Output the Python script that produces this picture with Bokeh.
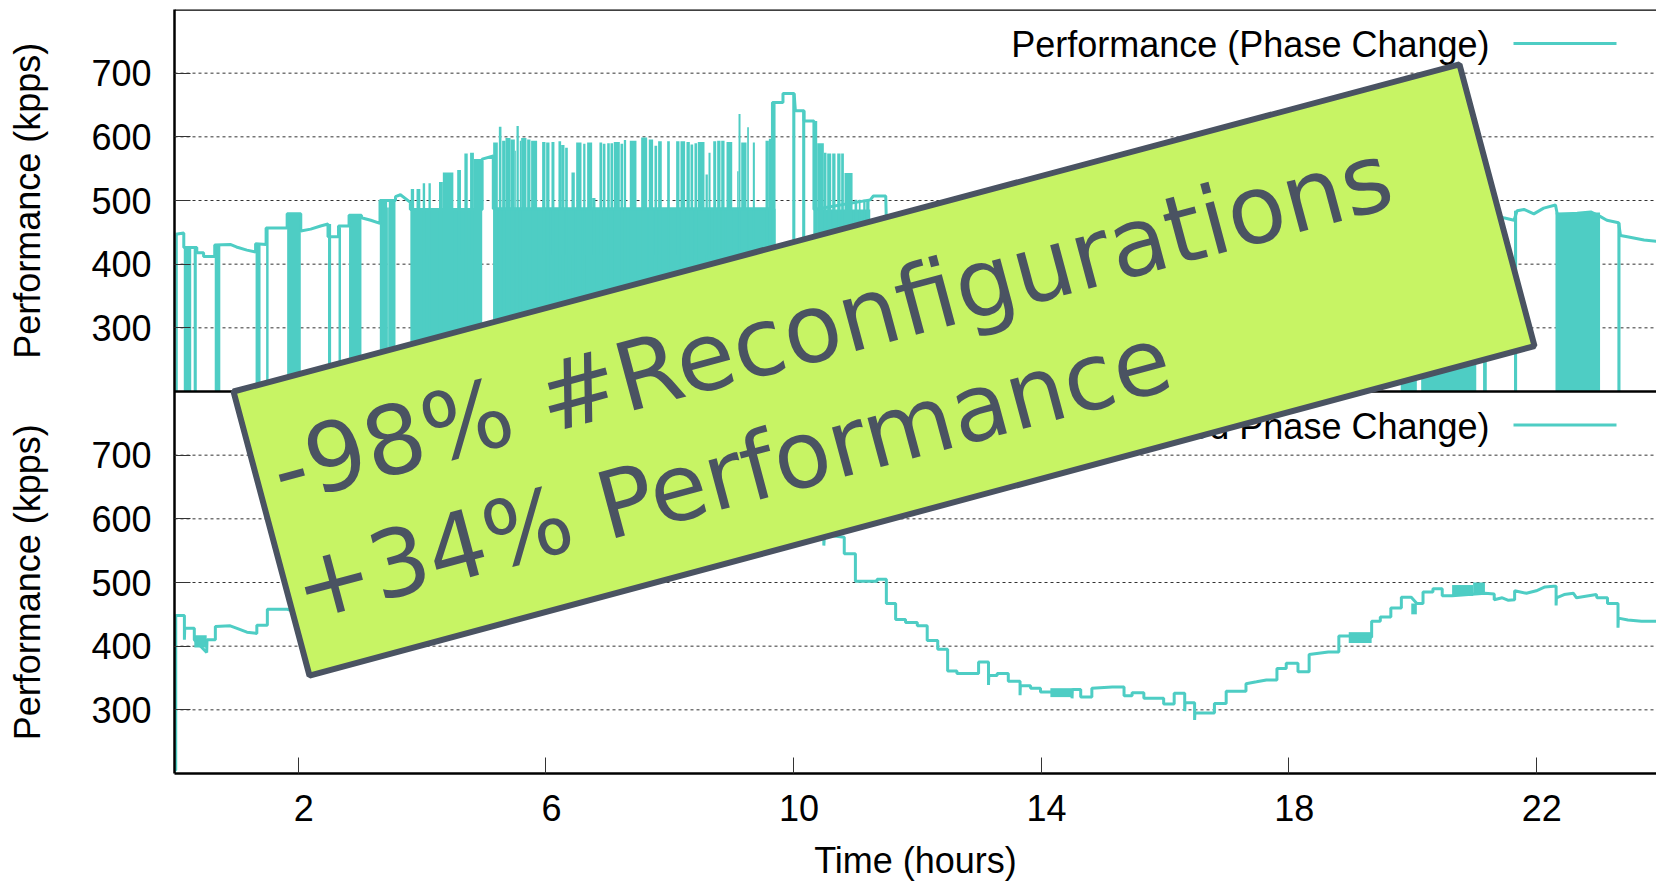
from bokeh.core.properties import value
from bokeh.embed import file_html
from bokeh.layouts import row
from bokeh.models import FixedTicker, Label, LinearAxis, PolyAnnotation, Range1d, Span
from bokeh.plotting import figure
from bokeh.resources import INLINE

# ---- tick labels / texts
x_ticks = [2, 6, 10, 14, 18, 22]
y_ticks = [300, 400, 500, 600, 700]
legend_upper = "Performance (Phase Change)"
legend_lower = "Performance (Filtered Phase Change)"
y_title = "Performance (kpps)"
x_title = "Time (hours)"
callout_1 = "-98% #Reconfigurations"
callout_2 = "+34% Performance"

# ---- upper panel: envelope of the performance trace, (hour, kpps)
upper_trace = [
    (0.02,447),(0.15,449),(0.15,426),(0.36,426),(0.36,418),(0.47,418),(0.47,412),(0.65,412),
    (0.65,430),(0.90,431),(1.00,427),(1.17,422),(1.31,419),(1.31,432),(1.48,431),(1.48,457),
    (1.82,457),(1.82,479),(2.04,479),(2.04,452),(2.20,455),(2.36,460),(2.48,463),(2.48,443),
    (2.65,443),(2.65,460),(2.82,460),(2.82,477),(3.02,477),(3.02,473),(3.17,469),(3.32,464),
    (3.32,500),(3.57,500),(3.57,506),(3.65,509),(3.81,497),(3.81,486),(4.97,486),(4.97,565),
    (5.15,570),(5.15,487),(9.66,487),(9.66,654),(9.83,654),(9.83,668),(10.01,668),(10.03,641),
    (10.17,641),(10.17,625),(10.33,625),(10.33,486),(11.24,501),(11.29,507),(11.49,507),
    (11.50,467),(12.0,435),(13.0,360),(14.0,330),(15.0,330),(16.0,310),(16.5,295),(17.0,325),
    (18.0,370),(19.0,415),(19.5,445),(20.0,470),(21.2,480),(21.47,473),(21.64,469),(21.69,484),
    (21.80,486),(21.96,479),(22.12,488),(22.31,493),(22.34,478),(22.66,480),(22.88,482),
    (23.03,475),(23.14,469),(23.33,465),(23.36,445),(23.47,443),(23.74,438),(23.94,436),
]

# ---- upper panel: solid runs of reconfigurations, (start, end, top)
upper_runs = [
    (0.016,0.053,447),(0.15,0.27,426),(0.31,0.36,424),(0.65,0.74,429),(1.31,1.39,432),
    (1.48,1.52,457),(1.82,2.04,480),(2.48,2.53,463),(2.65,2.69,458),(2.82,3.02,477),
    (3.317,3.435,500),(3.435,3.462,489),(3.462,3.57,500),(3.812,4.97,486),(5.15,9.71,487),
    (9.66,9.71,652),(9.98,10.03,668),(10.14,10.19,641),(10.32,10.383,625),(10.383,11.24,486),
    (19.81,20.07,470),(20.14,21.03,485),(21.14,21.20,485),(21.64,21.69,484),(22.31,23.03,481),
    (23.31,23.36,465),
]

# ---- upper panel: spikes above the solid runs, (start, end, top)
upper_spikes = [
    (3.817,3.871,518),(3.91,3.971,518),(4.01,4.049,527),(4.103,4.141,527),(4.273,4.335,529),
    (4.335,4.505,544),(4.567,4.628,548),(4.683,4.737,574),(4.775,4.837,575),(4.837,4.969,565),
    (5.148,5.223,591),(5.24,5.282,616),(5.293,5.347,594),(5.347,5.428,598),(5.428,5.498,596),
    (5.498,5.514,578),(5.525,5.562,617),(5.578,5.60,594),(5.60,5.686,598),(5.697,5.751,596),
    (5.761,5.858,594),(5.939,5.993,592),(6.004,6.058,591),(6.09,6.138,592),(6.203,6.246,593),
    (6.246,6.30,587),(6.311,6.354,583),(6.413,6.467,544),(6.489,6.575,591),(6.602,6.639,589),
    (6.666,6.747,591),(6.747,6.801,504),(6.865,6.909,591),(6.919,6.962,589),(6.99,7.032,590),
    (7.043,7.086,590),(7.097,7.194,592),(7.205,7.248,589),(7.259,7.296,595),(7.355,7.463,594),
    (7.539,7.636,599),(7.662,7.732,596),(7.754,7.797,586),(7.813,7.872,593),(7.959,8.002,593),
    (8.104,8.158,593),(8.174,8.249,593),(8.271,8.325,592),(8.336,8.379,588),(8.40,8.443,590),
    (8.454,8.562,592),(8.579,8.616,541),(8.627,8.66,575),(8.703,8.751,593),(8.767,8.821,594),
    (8.832,8.886,594),(8.918,9.01,592),(9.09,9.112,546),(9.112,9.144,636),(9.155,9.241,591),
    (9.252,9.279,615),(9.343,9.376,591),(9.548,9.602,594),(9.602,9.64,597),(10.383,10.49,590),
    (10.49,10.533,575),(10.544,10.609,574),(10.625,10.679,574),(10.706,10.76,574),
    (10.77,10.814,574),(10.824,10.954,543),(10.986,11.029,501),(11.056,11.083,501),
    (11.126,11.164,501),(11.174,11.228,501),
]

# ---- lower panel: the performance trace, (hour, kpps)
lower_trace = [
    (0.00,205),(0.02,205),(0.02,448),(0.16,448),(0.16,410),(0.165,428),(0.32,428),(0.32,410),
    (0.52,390),(0.525,410),(0.66,410),(0.66,431),(0.90,432),(1.01,428),(1.17,422),(1.33,420),
    (1.33,433),(1.50,433),(1.50,458),(1.82,458),(2.04,452),(2.48,463),(2.65,443),(2.82,460),
    (3.02,476),(3.32,465),(3.57,505),(3.81,497),(4.10,525),(4.60,548),(5.10,570),(5.20,592),
    (6.00,594),(7.00,592),(8.00,593),(9.00,593),(9.65,596),(9.66,654),(9.83,654),(9.83,668),
    (10.03,668),(10.03,641),(10.17,641),(10.17,625),(10.33,625),(10.33,590),(10.49,590),
    (10.49,558),(10.50,575),(10.82,571),(10.82,545),(11.00,545),(11.00,502),(11.35,502),
    (11.35,505),(11.50,505),(11.50,467),(11.65,467),(11.65,442),(11.81,442),(11.81,437),
    (12.00,437),(12.00,432),(12.16,432),(12.16,409),(12.33,409),(12.33,395),(12.49,395),
    (12.49,361),(12.64,361),(12.64,357),(12.99,357),(12.99,375),(13.15,375),(13.15,339),
    (13.155,354),(13.29,354),(13.29,357),(13.47,357),(13.47,345),(13.66,345),(13.66,323),
    (13.665,338),(13.83,338),(13.83,334),(13.99,334),(13.99,328),(14.15,328),(14.50,328),
    (14.50,318),(14.505,332),(14.64,332),(14.64,320),(14.82,320),(14.82,334),(15.15,336),
    (15.34,336),(15.34,322),(15.47,322),(15.47,327),(15.66,327),(15.66,318),(15.98,318),
    (15.98,309),(16.15,309),(16.15,326),(16.32,326),(16.32,298),(16.325,311),(16.48,311),
    (16.48,284),(16.485,295),(16.80,295),(16.80,310),(16.99,310),(16.99,329),(17.31,329),
    (17.31,341),(17.48,344),(17.64,347),(17.81,347),(17.81,365),(17.96,365),(17.96,373),
    (18.15,373),(18.15,360),(18.33,360),(18.33,387),(18.64,391),(18.81,391),(18.81,416),
    (18.97,416),(19.34,414),(19.34,439),(19.48,439),(19.48,446),(19.65,446),(19.65,460),
    (19.82,460),(19.82,477),(19.98,477),(20.07,467),(20.17,467),(20.17,485),(20.33,485),
    (20.33,490),(20.48,490),(20.48,479),(20.64,479),(21.17,483),(21.32,482),(21.32,473),
    (21.45,476),(21.55,472),(21.65,473),(21.65,487),(21.84,483),(22.0,487),(22.14,493),
    (22.28,494),(22.32,494),(22.32,464),(22.325,476),(22.45,481),(22.60,483),(22.65,476),
    (22.97,481),(22.98,476),(23.15,476),(23.15,467),(23.32,467),(23.32,429),(23.325,444),
    (23.48,441),(23.70,439),(23.94,439),
]

# ---- lower panel: short bursts of reconfigurations, (start, end, low, high)
lower_bursts = [
    (0.32,0.52,398,417),(14.15,14.50,320,334),(18.97,19.34,405,422),(19.98,20.07,450,467),
    (20.64,20.98,479,496),(20.98,21.17,483,500),
]

# ---- page geometry of the reference
W, H = 1656, 883
STRIP = 60           # narrow figure at the left that holds the two rotated y titles
LEFT, TOP, BOTTOM = 174, 9, 774
PX_PER_HOUR = 61.9
TEAL = "#4ECDC4"
SLATE = "#4A5362"
LIME = "#C7F464"
FONT = "Liberation Sans"
SZ = "36px"

x_end = (W - LEFT) / PX_PER_HOUR
p = figure(width=W - STRIP, height=H, output_backend="svg", toolbar_location=None,
           x_range=Range1d(0, x_end), y_range=Range1d(200, 1400),
           min_border_left=LEFT - STRIP, min_border_right=0,
           min_border_top=TOP, min_border_bottom=H - BOTTOM,
           x_axis_type=None, y_axis_type=None, outline_line_color=None)
p.extra_y_ranges["upper"] = Range1d(-400, 800)
p.extra_x_ranges["labels"] = Range1d(-0.089, x_end - 0.089)
PX_PER_UNIT = (BOTTOM - TOP) / 1200


def hx(px):
    return (px - LEFT) / PX_PER_HOUR


def vy(py):
    return 200 + (BOTTOM - py) / PX_PER_UNIT


# left axis: both panels share the one axis, the upper panel's ticks sit 600 above
all_y = y_ticks + [v + 600 for v in y_ticks]
yax = LinearAxis(ticker=FixedTicker(ticks=all_y),
                 major_label_overrides={v + 600: str(v) for v in y_ticks})
yax.major_label_text_font = FONT
yax.major_label_text_font_size = SZ
yax.major_label_text_color = "black"
yax.major_label_standoff = 23
yax.major_tick_in = 16
yax.major_tick_out = 0
yax.major_tick_line_color = "#333333"
yax.minor_tick_line_color = None
yax.axis_line_width = 2.5
yax.axis_line_color = "black"
p.add_layout(yax, "left")

# bottom axis: tick marks on the real scale
xax = LinearAxis(ticker=FixedTicker(ticks=x_ticks),
                 major_label_overrides={t: "" for t in x_ticks})
xax.major_label_text_font_size = "1px"
xax.major_label_standoff = 0
xax.major_tick_in = 16
xax.major_tick_out = 0
xax.major_tick_line_color = "#333333"
xax.minor_tick_line_color = None
xax.axis_line_width = 2.5
xax.axis_line_color = "black"
p.add_layout(xax, "below")

# bottom axis labels sit slightly right of their ticks in the reference
xlab = LinearAxis(x_range_name="labels", ticker=FixedTicker(ticks=x_ticks), axis_label=x_title)
xlab.major_label_text_font = FONT
xlab.major_label_text_font_size = SZ
xlab.major_label_text_color = "black"
xlab.major_label_standoff = 15
xlab.major_tick_line_color = None
xlab.minor_tick_line_color = None
xlab.axis_line_color = None
xlab.axis_label_text_font = FONT
xlab.axis_label_text_font_size = SZ
xlab.axis_label_text_font_style = "normal"
xlab.axis_label_text_color = "black"
xlab.axis_label_standoff = 16
p.add_layout(xlab, "below")

# dotted horizontal grid
for loc in all_y:
    p.add_layout(Span(location=loc, dimension="width", line_color="#333333", line_width=1,
                      line_dash="3 3", level="underlay"))

# upper panel
p.quad(left=[r[0] for r in upper_runs], right=[r[1] for r in upper_runs], bottom=200,
       top=[r[2] for r in upper_runs], y_range_name="upper", fill_color=TEAL, line_color=None)
p.quad(left=[s[0] for s in upper_spikes], right=[s[1] for s in upper_spikes], bottom=200,
       top=[s[2] for s in upper_spikes], y_range_name="upper", fill_color=TEAL, line_color=None)
p.line([t[0] for t in upper_trace], [t[1] for t in upper_trace], y_range_name="upper",
       line_color=TEAL, line_width=3)

# lower panel
p.quad(left=[b[0] for b in lower_bursts], right=[b[1] for b in lower_bursts],
       bottom=[b[2] for b in lower_bursts], top=[b[3] for b in lower_bursts],
       fill_color=TEAL, line_color=None)
p.line([t[0] for t in lower_trace], [t[1] for t in lower_trace], line_color=TEAL, line_width=3)

# spines between and above the panels
for loc in (800, 1400):
    p.add_layout(Span(location=loc, dimension="width", line_color="black", line_width=2.5))

# legends
for text_y, line_y, txt in ((44.5, 43, legend_upper), (427, 425, legend_lower)):
    p.text(x=[hx(1489)], y=[vy(text_y)], text=[txt], text_align="right", text_baseline="middle",
           text_font=value(FONT), text_font_size=SZ, text_color="black")
    p.segment(x0=[hx(1513)], x1=[hx(1616)], y0=[vy(line_y)], y1=[vy(line_y)],
              line_color=TEAL, line_width=3)

# call-out banner
corners = [(233, 391.5), (1459, 64), (1534, 346), (309, 676)]
p.add_layout(PolyAnnotation(xs=[hx(c[0]) for c in corners], ys=[vy(c[1]) for c in corners],
                            fill_color=LIME, fill_alpha=1, line_color=SLATE, line_alpha=1,
                            line_width=6))
for (px, py), txt, size in (((273, 473), callout_1, "95px"), ((295, 591), callout_2, "93px")):
    p.add_layout(Label(x=hx(px), y=vy(py), text=txt, angle=15, angle_units="deg",
                       text_align="left", text_baseline="alphabetic", text_font="DejaVu Sans",
                       text_font_size=size, text_color=SLATE))

# strip at the left with one rotated title per panel; the row lines its frame up with
# the main frame, so its vertical range runs over that same span
strip = figure(width=STRIP, height=H, output_backend="svg", toolbar_location=None,
               x_range=Range1d(0, STRIP), y_range=Range1d(BOTTOM, TOP),
               min_border_left=0, min_border_right=0, min_border_top=0, min_border_bottom=0,
               x_axis_type=None, y_axis_type=None, outline_line_color=None)
strip.grid.visible = False
strip.text(x=[27, 27], y=[200.5, 582.5], text=[y_title, y_title], angle=90, angle_units="deg",
           text_align="center", text_baseline="middle", text_font=value(FONT),
           text_font_size=SZ, text_color="black")

layout = row(strip, p, spacing=0)
open("out.html", "w").write(file_html(layout, INLINE))
